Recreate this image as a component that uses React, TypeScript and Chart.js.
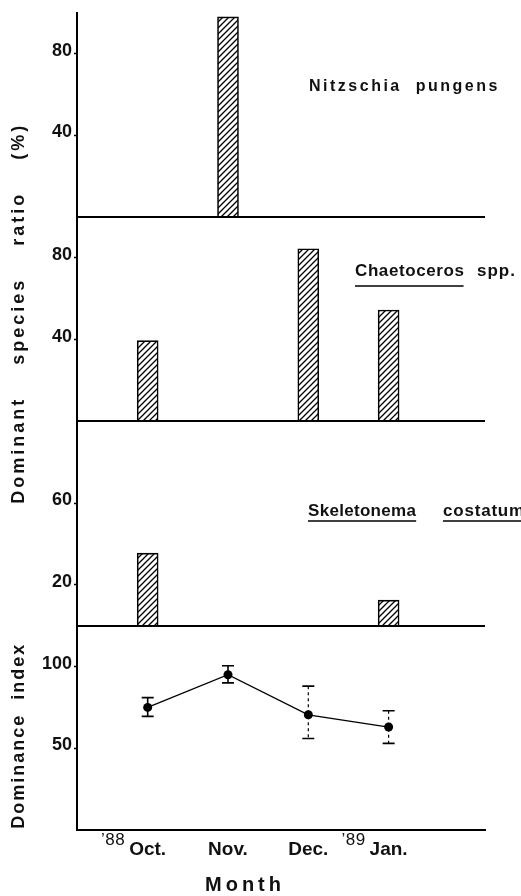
import { useEffect, useRef } from 'react';
import { Chart, registerables } from 'chart.js';

Chart.register(...registerables);

// Sampling months (x positions 0..3) and their axis labels
const monthIndex = [0, 1, 2, 3];
const monthLabels = ['Oct.', 'Nov.', 'Dec.', 'Jan.'];
const yearMarks = ['\u201988', '', '', '\u201989'];

// Dominant species ratio (%) per month; 0 = not dominant that month
const nitzschiaRatio = [0, 98, 0, 0];
const chaetocerosRatio = [39.5, 0, 84.5, 54.5];
const skeletonemaRatio = [35.5, 0, 0, 12.5];

// Dominance index with its range per month
const dominanceIndex = [75, 95, 70.5, 63];
const dominanceLower = [69.5, 90, 56, 53];
const dominanceUpper = [81, 100.5, 88, 73];
const dashedRange = [false, false, true, true];

// Labelled ticks of each panel
const nitzschiaTicks = [40, 80];
const chaetocerosTicks = [40, 80];
const skeletonemaTicks = [20, 60];
const indexTicks = [50, 100];

const FONT = "'Liberation Sans', Arial, Helvetica, sans-serif";
const INK = '#111';

function makeHatch(ctx: CanvasRenderingContext2D): CanvasPattern {
  const size = 6;
  const tile = document.createElement('canvas');
  tile.width = size;
  tile.height = size;
  const g = tile.getContext('2d')!;
  g.fillStyle = '#fff';
  g.fillRect(0, 0, size, size);
  g.strokeStyle = '#000';
  g.lineWidth = 1.3;
  g.beginPath();
  g.moveTo(0, size);
  g.lineTo(size, 0);
  g.moveTo(-1, 1);
  g.lineTo(1, -1);
  g.moveTo(size - 1, size + 1);
  g.lineTo(size + 1, size - 1);
  g.stroke();
  return ctx.createPattern(tile, 'repeat')!;
}

function barSet(values: number[], axis: string, fill: CanvasPattern) {
  return {
    type: 'bar' as const,
    yAxisID: axis,
    data: monthIndex
      .map((m, i) => ({ x: m, y: values[i] }))
      .filter((p) => p.y > 0),
    backgroundColor: fill,
    borderColor: '#000',
    borderWidth: 1.6,
    borderSkipped: 'start' as const,
    barThickness: 21,
    grouped: false,
  };
}

function panelAxis(max: number, ticks: number[], weight: number) {
  return {
    type: 'linear' as const,
    position: 'left' as const,
    stack: 'panels',
    stackWeight: 1,
    weight,
    min: 0,
    max,
    afterBuildTicks: (axis: any) => {
      axis.ticks = ticks.map((v) => ({ value: v }));
    },
    afterFit: (axis: any) => {
      axis.width = 77;
    },
    grid: {
      drawOnChartArea: false,
      drawTicks: true,
      tickLength: 3,
      tickColor: '#000',
      tickWidth: 1.5,
    },
    border: { color: '#000', width: 2 },
    ticks: {
      color: INK,
      font: { family: FONT, size: 18, weight: 'bold' as const },
      padding: 2,
      labelOffset: -3,
    },
  };
}

function spacedText(
  ctx: CanvasRenderingContext2D,
  text: string,
  x: number,
  y: number,
  font: string,
  spacing: number,
  align: CanvasTextAlign = 'left',
  rotate = 0,
) {
  ctx.save();
  ctx.translate(x, y);
  if (rotate) ctx.rotate(rotate);
  ctx.font = font;
  (ctx as any).letterSpacing = `${spacing}px`;
  ctx.fillStyle = INK;
  ctx.textAlign = align;
  ctx.textBaseline = 'middle';
  ctx.fillText(text, 0, 0);
  const w = ctx.measureText(text).width;
  ctx.restore();
  return w;
}

function underline(ctx: CanvasRenderingContext2D, x: number, y: number, w: number) {
  ctx.save();
  ctx.strokeStyle = '#000';
  ctx.lineWidth = 1.6;
  ctx.beginPath();
  ctx.moveTo(x, y);
  ctx.lineTo(x + w, y);
  ctx.stroke();
  ctx.restore();
}

const panelDecor = {
  id: 'panelDecor',
  afterDatasetsDraw(chart: any) {
    const ctx: CanvasRenderingContext2D = chart.ctx;
    const { left, right } = chart.chartArea;
    const xs = chart.scales.x;
    const yi = chart.scales.yI;

    // zero lines of the three ratio panels
    ctx.save();
    ctx.strokeStyle = '#000';
    ctx.lineWidth = 2;
    for (const id of ['yN', 'yC', 'yS']) {
      const y = Math.round(chart.scales[id].getPixelForValue(0));
      ctx.beginPath();
      ctx.moveTo(left, y);
      ctx.lineTo(right, y);
      ctx.stroke();
    }

    // range bars of the dominance index
    monthIndex.forEach((m, i) => {
      const x = xs.getPixelForValue(m);
      const yTop = yi.getPixelForValue(dominanceUpper[i]);
      const yBot = yi.getPixelForValue(dominanceLower[i]);
      ctx.lineWidth = dashedRange[i] ? 1.2 : 1.6;
      ctx.setLineDash(dashedRange[i] ? [3, 3] : []);
      ctx.beginPath();
      ctx.moveTo(x, yTop);
      ctx.lineTo(x, yBot);
      ctx.stroke();
      ctx.setLineDash([]);
      ctx.lineWidth = 1.6;
      ctx.beginPath();
      ctx.moveTo(x - 6, yTop);
      ctx.lineTo(x + 6, yTop);
      ctx.moveTo(x - 6, yBot);
      ctx.lineTo(x + 6, yBot);
      ctx.stroke();
    });
    ctx.restore();
  },
  afterDraw(chart: any) {
    const ctx: CanvasRenderingContext2D = chart.ctx;
    const { left } = chart.chartArea;
    const xs = chart.scales.x;
    const yN = chart.scales.yN;
    const yS = chart.scales.yS;
    const yi = chart.scales.yI;
    const bold = (s: number) => `bold ${s}px ${FONT}`;

    // species names
    spacedText(ctx, 'Nitzschia  pungens', left + 232, 87, bold(16), 2.5);
    const wC = spacedText(ctx, 'Chaetoceros', left + 278, 271, bold(17), 0.6);
    underline(ctx, left + 278, 286, wC - 1);
    spacedText(ctx, 'spp.', left + 400, 271, bold(17), 1);
    const wS = spacedText(ctx, 'Skeletonema', left + 231, 511, bold(17), 0.3);
    underline(ctx, left + 231, 521, wS);
    const wT = spacedText(ctx, 'costatum', left + 366, 511, bold(17), 0.8);
    underline(ctx, left + 366, 521, wT - 1);

    // axis titles
    const ratioMid = (yN.top + yS.bottom) / 2 - 6;
    spacedText(ctx, 'Dominant    species    ratio    (%)', 19, ratioMid, bold(18), 3, 'center', -Math.PI / 2);
    const indexMid = (yi.top + yi.bottom) / 2 + 8;
    spacedText(ctx, 'Dominance  index', 19, indexMid, bold(18), 2, 'center', -Math.PI / 2);
    spacedText(ctx, 'Month', left + 168, 885, bold(20), 4, 'center');

    // year marks in front of the month labels
    ctx.save();
    monthIndex.forEach((m, i) => {
      if (!yearMarks[i]) return;
      ctx.font = bold(19);
      const labelW = ctx.measureText(monthLabels[i]).width;
      const x = xs.getPixelForValue(m) - labelW / 2 - 4;
      spacedText(ctx, yearMarks[i], x, 840, `17px ${FONT}`, 0.5, 'right');
    });
    ctx.restore();
  },
};

export default function App() {
  const canvasRef = useRef<HTMLCanvasElement>(null);

  useEffect(() => {
    const canvas = canvasRef.current!;
    const ctx = canvas.getContext('2d')!;
    const hatch = makeHatch(ctx);

    const chart = new Chart(canvas, {
      type: 'bar',
      data: {
        datasets: [
          barSet(nitzschiaRatio, 'yN', hatch),
          barSet(chaetocerosRatio, 'yC', hatch),
          barSet(skeletonemaRatio, 'yS', hatch),
          {
            type: 'line',
            yAxisID: 'yI',
            data: monthIndex.map((m, i) => ({ x: m, y: dominanceIndex[i] })),
            borderColor: '#000',
            borderWidth: 1.3,
            pointRadius: 4.5,
            pointBackgroundColor: '#000',
            pointBorderWidth: 0,
            tension: 0,
          } as any,
        ],
      },
      options: {
        responsive: false,
        animation: false,
        devicePixelRatio: 1,
        layout: { padding: { left: 0, top: 10, right: 36, bottom: 0 } },
        plugins: {
          legend: { display: false },
          tooltip: { enabled: false },
        },
        scales: {
          x: {
            type: 'linear',
            min: -0.88,
            max: 4.2,
            offset: false,
            afterBuildTicks: (axis: any) => {
              axis.ticks = monthIndex.map((v) => ({ value: v }));
            },
            afterFit: (axis: any) => {
              axis.height = 66;
            },
            grid: { drawOnChartArea: false, drawTicks: false },
            border: { color: '#000', width: 2 },
            ticks: {
              callback: (v: any) => monthLabels[v as number] ?? '',
              color: INK,
              font: { family: FONT, size: 19, weight: 'bold' },
              padding: 8,
              maxRotation: 0,
              autoSkip: false,
            },
          },
          yI: panelAxis(125, indexTicks, 1),
          yS: panelAxis(100, skeletonemaTicks, 2),
          yC: panelAxis(100, chaetocerosTicks, 3),
          yN: panelAxis(100, nitzschiaTicks, 4),
        } as any,
      },
      plugins: [panelDecor],
    });

    return () => chart.destroy();
  }, []);

  return (
    <div style={{ position: 'fixed', left: 0, top: 0, width: 521, height: 896, background: '#fff' }}>
      <canvas ref={canvasRef} width={521} height={896} style={{ display: 'block', width: 521, height: 896 }} />
    </div>
  );
}
